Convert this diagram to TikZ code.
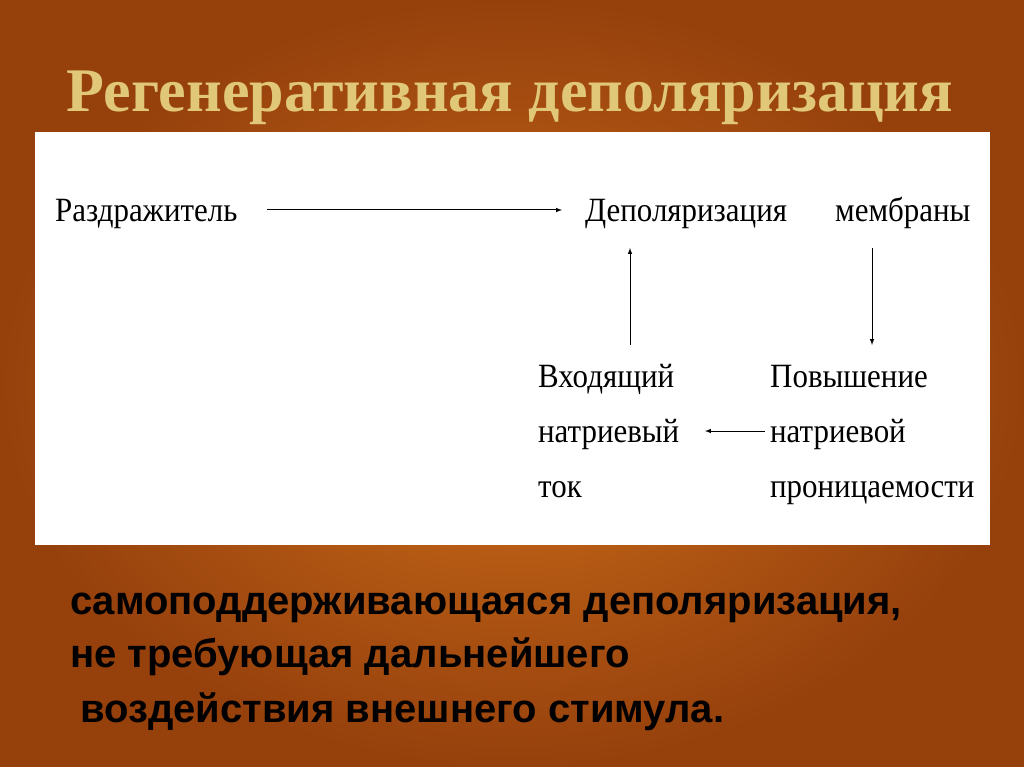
\documentclass[tikz,border=0pt]{standalone}
\usepackage{fontspec}
\setmainfont{Liberation Serif}
\newfontfamily\bsans{Liberation Sans}
\begin{document}
\begin{tikzpicture}[x=1pt,y=-1pt,
  dtext/.style={font=\fontsize{34}{40}\selectfont, inner sep=0pt, anchor=base west, xscale=0.91},
  btext/.style={font=\bsans\bfseries\fontsize{40}{46}\selectfont, anchor=base west, inner sep=0pt},
  arr/.style={-latex, line width=1pt, shorten >=2pt, shorten <=2pt}]
\useasboundingbox (0,0) rectangle (1024,767);
\shade[inner color={rgb,255:red,205;green,112;blue,28}, outer color={rgb,255:red,150;green,64;blue,12}] (0,0) rectangle (1024,767);
\node[font=\bfseries\fontsize{62}{66}\selectfont, text={rgb,255:red,225;green,200;blue,120}] (title) at (510,98) {Регенеративная деполяризация};
\fill[white] (35,132) rectangle (990,545);
\node[dtext] (raz) at (55,222) {Раздражитель};
\node[dtext] (dep) at (585,222) {Деполяризация};
\node[dtext] (mem) at (835,222) {мембраны};
\node[dtext] (vh1) at (538,387) {Входящий};
\node[dtext] (vh2) at (538,442) {натриевый};
\node[dtext] (vh3) at (538,497) {ток};
\node[dtext] (pv1) at (770,387) {Повышение};
\node[dtext] (pv2) at (770,442) {натриевой};
\node[dtext] (pv3) at (770,497) {проницаемости};
\coordinate (a1) at (265,210); \coordinate (a2) at (564,210);
\draw[arr] (a1) -- (a2);
\coordinate (u1) at (630,347); \coordinate (u2) at (630,246);
\draw[arr] (u1) -- (u2);
\coordinate (d1) at (872,246); \coordinate (d2) at (872,347);
\draw[arr] (d1) -- (d2);
\coordinate (l1) at (767,431); \coordinate (l2) at (703,431);
\draw[arr] (l1) -- (l2);
\node[btext] (b1) at (70,614) {самоподдерживающаяся деполяризация,};
\node[btext] (b2) at (70,667) {не требующая дальнейшего};
\node[btext] (b3) at (80,722) {воздействия внешнего стимула.};
\end{tikzpicture}
\end{document}
